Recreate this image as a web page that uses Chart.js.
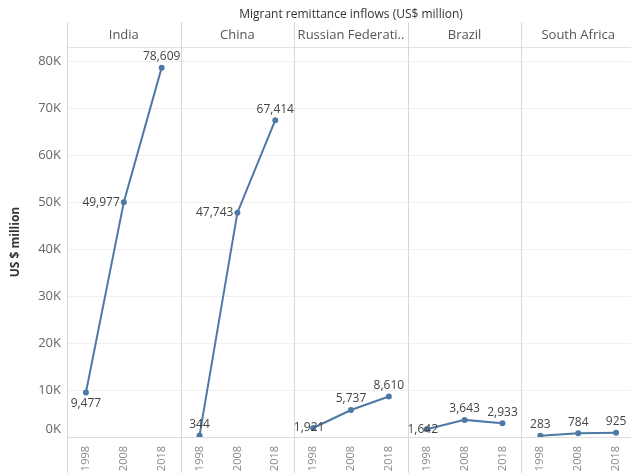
<!DOCTYPE html>
<html>
<head>
<meta charset="utf-8">
<script src="https://cdn.jsdelivr.net/npm/chart.js@4/dist/chart.umd.min.js"></script>
<style>
  html, body { margin: 0; padding: 0; background: #fff; overflow: hidden; }
  #wrap { width: 639px; height: 473px; position: relative; }
</style>
</head>
<body>
<div id="wrap"><canvas id="chart"></canvas></div>
<script>
const years = ['1998', '2008', '2018'];
const countries = ['India', 'China', 'Russian Federati..', 'Brazil', 'South Africa'];
const india = [9477, 49977, 78609];
const china = [344, 47743, 67414];
const russia = [1921, 5737, 8610];
const brazil = [1642, 3643, 2933];
const southAfrica = [283, 784, 925];
const yTicks = [0, 10000, 20000, 30000, 40000, 50000, 60000, 70000, 80000];

const series = [india, china, russia, brazil, southAfrica];
const blue = '#4e79a7';
const font = '"Open Sans", "DejaVu Sans", sans-serif';

// where each value label sits relative to its point
const placement = [
  ['below', 'left', 'above'],
  ['above', 'left', 'above'],
  ['center', 'above', 'above'],
  ['center', 'above', 'above'],
  ['above', 'above', 'above']
];

const labels = [].concat(...countries.map(() => years));

const datasets = series.map((vals, s) => {
  const data = labels.map(() => null);
  vals.forEach((v, i) => (data[s * 3 + i] = v));
  return {
    label: countries[s],
    data,
    borderColor: blue,
    backgroundColor: blue,
    borderWidth: 2,
    pointRadius: 2,
    pointHoverRadius: 2,
    tension: 0,
    spanGaps: false
  };
});

const panelPlugin = {
  id: 'panels',
  beforeDatasetsDraw(chart) {
    const { ctx, chartArea, scales } = chart;
    const x = scales.x;
    const bounds = [chartArea.left];
    for (let k = 1; k < countries.length; k++) {
      bounds.push((x.getPixelForTick(k * 3 - 1) + x.getPixelForTick(k * 3)) / 2);
    }
    bounds.push(chartArea.right);

    ctx.save();
    // header bottom rule
    ctx.strokeStyle = '#e2e2e2';
    ctx.lineWidth = 1;
    ctx.beginPath();
    ctx.moveTo(chartArea.left, chartArea.top + 0.5);
    ctx.lineTo(chartArea.right, chartArea.top + 0.5);
    ctx.stroke();

    // panel separators
    ctx.strokeStyle = '#d8d8d8';
    bounds.slice(0, countries.length).forEach(b => {
      const px = Math.round(b) + 0.5;
      ctx.beginPath();
      ctx.moveTo(px, 22);
      ctx.lineTo(px, chart.height);
      ctx.stroke();
    });

    // panel headers
    ctx.fillStyle = '#555';
    ctx.font = '13px ' + font;
    ctx.textAlign = 'center';
    ctx.textBaseline = 'middle';
    countries.forEach((c, k) => {
      ctx.fillText(c, (bounds[k] + bounds[k + 1]) / 2, 35);
    });

    // subtitle
    ctx.fillStyle = '#333';
    ctx.font = '12px ' + font;
    ctx.fillText('Migrant remittance inflows (US$ million)', 351, 15);

    // bottom y label kept inside the pane
    const y = scales.y;
    ctx.fillStyle = '#666';
    ctx.font = '13px ' + font;
    ctx.textAlign = 'right';
    ctx.fillText('0K', y.right - 6, y.getPixelForValue(0) - 8);
    ctx.restore();
  },
  afterDatasetsDraw(chart) {
    const { ctx } = chart;
    ctx.save();
    ctx.fillStyle = '#444';
    ctx.font = '12px ' + font;
    ctx.textBaseline = 'middle';
    series.forEach((vals, s) => {
      const meta = chart.getDatasetMeta(s);
      vals.forEach((v, i) => {
        const pt = meta.data[s * 3 + i];
        const text = v.toLocaleString('en-US');
        const pos = placement[s][i];
        if (pos === 'left') {
          ctx.textAlign = 'right';
          ctx.fillText(text, pt.x - 4, pt.y);
        } else {
          ctx.textAlign = 'center';
          const dy = pos === 'above' ? -11 : pos === 'below' ? 11 : 0;
          const dx = pos === 'center' ? -4 : 0;
          ctx.fillText(text, pt.x + dx, pt.y + dy);
        }
      });
    });
    ctx.restore();
  }
};

new Chart(document.getElementById('chart'), {
  type: 'line',
  data: { labels, datasets },
  plugins: [panelPlugin],
  options: {
    responsive: true,
    maintainAspectRatio: false,
    animation: false,
    events: [],
    layout: { padding: { top: 47, left: 0, right: 0, bottom: 0 } },
    plugins: { legend: { display: false }, tooltip: { enabled: false }, title: { display: false } },
    scales: {
      x: {
        type: 'category',
        offset: true,
        grid: { display: false },
        border: { display: true, color: '#dcdcdc' },
        ticks: {
          autoSkip: false,
          minRotation: 90,
          maxRotation: 90,
          padding: 1,
          color: '#888',
          font: { family: font, size: 11 }
        },
        afterFit(scale) {
          scale.height = 36;
          scale.paddingLeft = 0;
          scale.paddingRight = 0;
        }
      },
      y: {
        min: 0,
        max: 83000,
        afterBuildTicks(scale) {
          scale.ticks = yTicks.map(v => ({ value: v }));
        },
        grid: { color: '#f0f0f0', drawTicks: false },
        border: { display: false },
        ticks: {
          padding: 6,
          color: '#666',
          font: { family: font, size: 13 },
          callback: v => (v === 0 ? '' : v / 1000 + 'K')
        },
        title: {
          display: true,
          text: 'US $ million',
          color: '#333',
          font: { family: font, size: 12, weight: 'bold' },
          padding: { top: 8, bottom: 0 }
        },
        afterFit(scale) {
          scale.width = 67;
        }
      }
    }
  }
});
</script>
</body>
</html>
